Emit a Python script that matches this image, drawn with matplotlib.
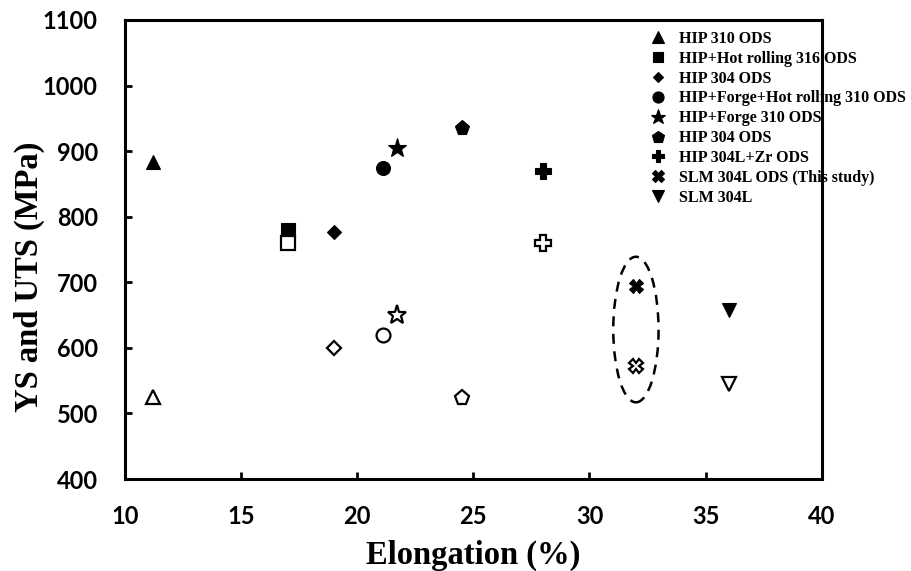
import matplotlib

matplotlib.use("Agg")
import matplotlib.pyplot as plt
from matplotlib.patches import Ellipse

# one entry per alloy: label, marker, elongation, UTS (filled), YS (open)
labels = [
    "HIP 310 ODS",
    "HIP+Hot rolling 316 ODS",
    "HIP 304 ODS",
    "HIP+Forge+Hot rolling 310 ODS",
    "HIP+Forge 310 ODS",
    "HIP 304 ODS",
    "HIP 304L+Zr ODS",
    "SLM 304L ODS (This study)",
    "SLM 304L",
]
markers = ["^", "s", "D", "o", "*", "p", "P", "X", "v"]
elongation = [11.2, 17.0, 19.0, 21.1, 21.7, 24.5, 28.0, 32.0, 36.0]
uts = [884, 780, 776, 875, 905, 935, 870, 695, 658]
ys = [525, 760, 600, 620, 650, 523, 760, 572, 545]

sizes = {"^": 10, "s": 9.5, "D": 7, "o": 10, "*": 14, "p": 11, "P": 11, "X": 10, "v": 10}

SERIF = ["Liberation Serif", "DejaVu Serif"]
TICKFONT = ["Lato", "DejaVu Sans"]

fig, ax = plt.subplots(figsize=(9.12, 5.71), dpi=100)
fig.subplots_adjust(left=0.137, right=0.901, top=0.965, bottom=0.161)

handles = []
for lab, m, x, u, y in zip(labels, markers, elongation, uts, ys):
    ms = sizes[m]
    h, = ax.plot([x], [u], linestyle="none", marker=m, markersize=ms,
                 color="black", markeredgewidth=0.8, label=lab, zorder=3)
    ax.plot([x], [y], linestyle="none", marker=m, markersize=ms,
            markerfacecolor="white", markeredgecolor="black",
            markeredgewidth=1.6, zorder=3)
    handles.append(h)

# dashed ring around this study's points
ax.add_patch(Ellipse((32.0, 628), width=1.95, height=222, fill=False,
                     linestyle=(0, (4, 3)), linewidth=1.8, edgecolor="black"))

ax.set_xlim(10, 40)
ax.set_ylim(400, 1100)
ax.set_xticks(range(10, 41, 5))
ax.set_yticks(range(400, 1101, 100))
ax.tick_params(direction="in", length=5, width=2, labelsize=17)
ax.tick_params(axis="y", pad=19.5)
ax.tick_params(axis="x", pad=19)
for lbl in ax.get_xticklabels() + ax.get_yticklabels():
    lbl.set_family(TICKFONT)
    lbl.set_fontweight("bold")
for sp in ax.spines.values():
    sp.set_linewidth(2.2)

ax.set_xlabel("Elongation (%)", family=SERIF, fontweight="bold", fontsize=23.5, labelpad=8)
ax.set_ylabel("YS and UTS (MPa)", family=SERIF, fontweight="bold", fontsize=23.5)
ax.yaxis.set_label_coords(-0.115, 0.44)

ax.legend(handles=handles, loc="upper left", frameon=False,
          prop={"family": SERIF, "weight": "bold", "size": 11.5},
          labelspacing=0.24, handletextpad=0.85, handlelength=1.0,
          markerscale=0.8, borderaxespad=0.0, bbox_to_anchor=(0.744, 0.99))

fig.savefig("out.png", dpi=100)
